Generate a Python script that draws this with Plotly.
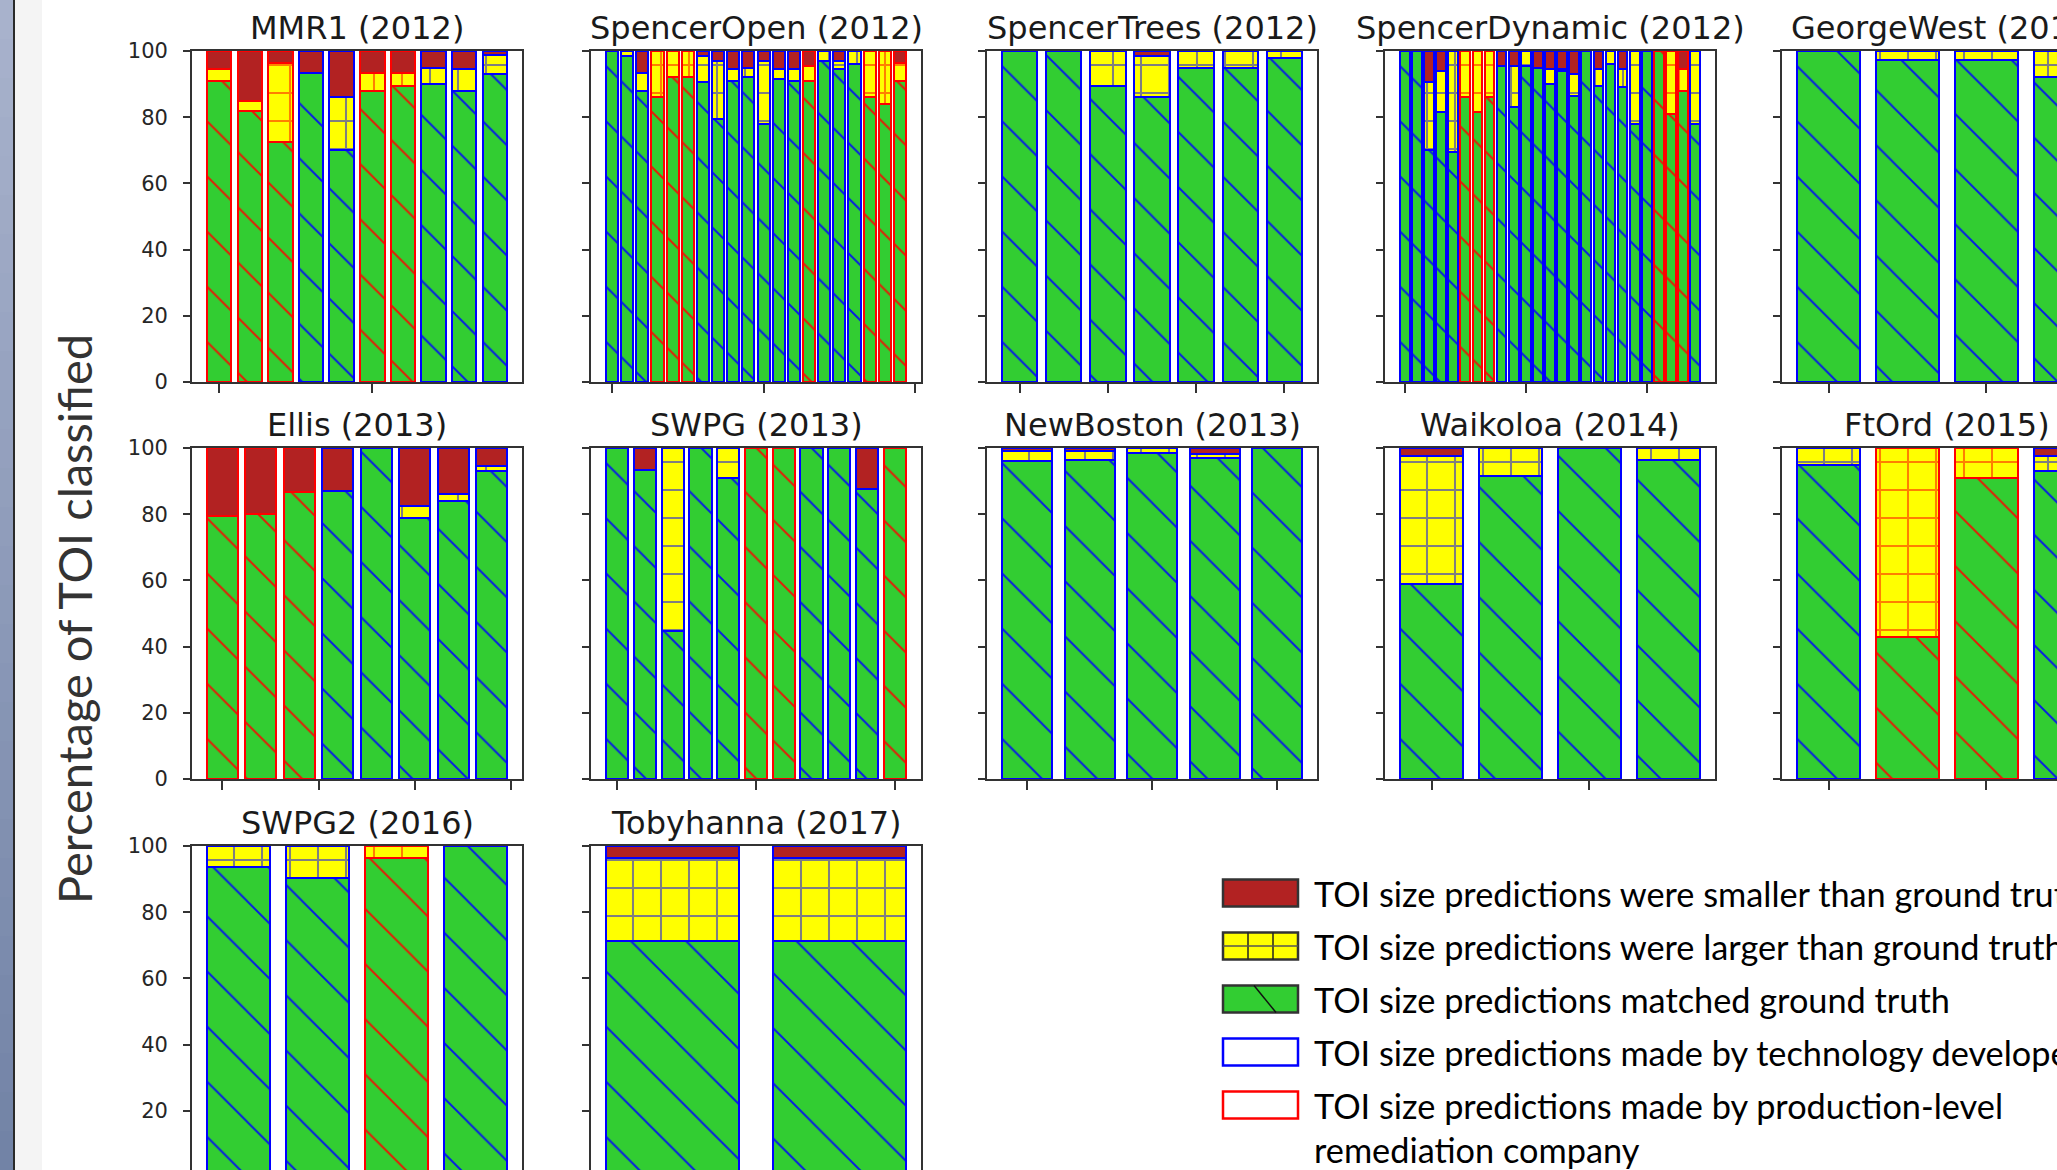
import plotly.graph_objects as go

W, H = 2057, 1170

# ---------------- data: percentage of TOI per submission ----------------
# maker: T = technology developer (blue edge), P = production-level company (red edge)
mmr1_matched = [91, 82, 72.5, 93.3, 70, 88, 89.5, 90, 88, 93]
mmr1_larger = [3.5, 3, 24, 0, 16, 5.5, 4, 5, 6.5, 5.7]
mmr1_smaller = [5.5, 15, 3.5, 6.7, 14, 6.5, 6.5, 5, 5.5, 1.3]
mmr1_maker = list("PPPTTPPTTT")
mmr1_xticks = [0, 5]

sopen_matched = [100, 98.5, 88, 86, 92, 92, 90.5, 79.5, 91, 92, 78, 91.5, 91, 91, 97, 94.5, 96, 86, 84, 91]
sopen_larger = [0, 1.5, 5.5, 14, 8, 8, 8, 17.5, 3.5, 3, 19, 3, 3.5, 4.5, 3, 2.5, 4, 14, 16, 5.5]
sopen_smaller = [0, 0, 6.5, 0, 0, 0, 1.5, 3, 5.5, 5, 3, 5.5, 5.5, 4.5, 0, 3, 0, 0, 0, 3.5]
sopen_maker = list("TTTPPPTTTTTTTPTTTPPP")
sopen_xticks = [0, 10, 20]

strees_matched = [100, 100, 89.5, 86, 95, 95, 97.8]
strees_larger = [0, 0, 10.5, 12.5, 5, 5, 2.2]
strees_smaller = [0, 0, 0, 1.5, 0, 0, 0]
strees_maker = list("TTTTTTT")
strees_xticks = [0, 2, 4, 6]

sdyn_matched = [100, 100, 70, 81.5, 69.5, 86, 81.5, 86, 95.5, 83, 95.5, 95, 90, 94, 86.5,
                100, 89.5, 96, 89, 78, 100, 100, 81, 88, 78]
sdyn_larger = [0, 0, 20.5, 12.5, 30.5, 14, 18.5, 14, 0, 12.5, 4.5, 0, 4.5, 0.5, 6.5,
               0, 5, 4, 5.5, 22, 0, 0, 19, 6.5, 22]
sdyn_smaller = [0, 0, 9.5, 6, 0, 0, 0, 0, 4.5, 4.5, 0, 5, 5.5, 5.5, 7,
                0, 5.5, 0, 5.5, 0, 0, 0, 0, 5.5, 0]
sdyn_maker = list("TTTTTPPPTTTTTTTTTTTTTPPPT")
sdyn_xticks = [0, 10, 20]

gwest_matched = [100, 97.2, 97.2, 92]
gwest_larger = [0, 2.8, 2.8, 8]
gwest_smaller = [0, 0, 0, 0]
gwest_maker = list("TTTT")
gwest_xticks = [0, 2]

ellis_matched = [79.5, 80.2, 86.6, 87, 100, 79, 84, 93]
ellis_larger = [0, 0, 0, 0, 0, 3.5, 2, 1.5]
ellis_smaller = [20.5, 19.8, 13.4, 13, 0, 17.5, 14, 5.5]
ellis_maker = list("PPPTTTTT")
ellis_xticks = [0, 2.5, 5, 7.5]

swpg_matched = [100, 93.3, 44.6, 100, 91, 100, 100, 100, 100, 87.6, 100]
swpg_larger = [0, 0, 55.4, 0, 9, 0, 0, 0, 0, 0, 0]
swpg_smaller = [0, 6.7, 0, 0, 0, 0, 0, 0, 0, 12.4, 0]
swpg_maker = list("TTTTTPPTTTP")
swpg_xticks = [0, 5, 10]

nbos_matched = [96, 96.5, 98.5, 97, 100]
nbos_larger = [3, 2.5, 1.5, 1.2, 0]
nbos_smaller = [1, 1, 0, 1.8, 0]
nbos_maker = list("TTTTT")
nbos_xticks = [0, 2, 4]

waik_matched = [59, 91.6, 100, 96.5]
waik_larger = [38.7, 8.4, 0, 3.5]
waik_smaller = [2.3, 0, 0, 0]
waik_maker = list("TTTT")
waik_xticks = [0, 2]

ftord_matched = [95, 43, 91, 93]
ftord_larger = [5, 57, 9, 4.7]
ftord_smaller = [0, 0, 0, 2.3]
ftord_maker = list("TPPT")
ftord_xticks = [0, 2]

swpg2_matched = [93.8, 90.3, 96.3, 100]
swpg2_larger = [6.2, 9.7, 3.7, 0]
swpg2_smaller = [0, 0, 0, 0]
swpg2_maker = list("TTPT")
swpg2_xticks = [0, 2]

toby_matched = [71.4, 71.4]
toby_larger = [25, 25]
toby_smaller = [3.6, 3.6]
toby_maker = list("TT")
toby_xticks = [0, 0.5, 1]

y_ticks = [0, 20, 40, 60, 80, 100]

legend_labels = [
    "TOI size predictions were smaller than ground truth",
    "TOI size predictions were larger than ground truth",
    "TOI size predictions matched ground truth",
    "TOI size predictions made by technology developer",
    "TOI size predictions made by production-level",
]
legend_label_cont = "remediation company"
y_title = "Percentage of TOI classified"

panels = [
    ("MMR1 (2012)", mmr1_matched, mmr1_larger, mmr1_smaller, mmr1_maker, mmr1_xticks, 0, 0),
    ("SpencerOpen (2012)", sopen_matched, sopen_larger, sopen_smaller, sopen_maker, sopen_xticks, 0, 1),
    ("SpencerTrees (2012)", strees_matched, strees_larger, strees_smaller, strees_maker, strees_xticks, 0, 2),
    ("SpencerDynamic (2012)", sdyn_matched, sdyn_larger, sdyn_smaller, sdyn_maker, sdyn_xticks, 0, 3),
    ("GeorgeWest (2013)", gwest_matched, gwest_larger, gwest_smaller, gwest_maker, gwest_xticks, 0, 4),
    ("Ellis (2013)", ellis_matched, ellis_larger, ellis_smaller, ellis_maker, ellis_xticks, 1, 0),
    ("SWPG (2013)", swpg_matched, swpg_larger, swpg_smaller, swpg_maker, swpg_xticks, 1, 1),
    ("NewBoston (2013)", nbos_matched, nbos_larger, nbos_smaller, nbos_maker, nbos_xticks, 1, 2),
    ("Waikoloa (2014)", waik_matched, waik_larger, waik_smaller, waik_maker, waik_xticks, 1, 3),
    ("FtOrd (2015)", ftord_matched, ftord_larger, ftord_smaller, ftord_maker, ftord_xticks, 1, 4),
    ("SWPG2 (2016)", swpg2_matched, swpg2_larger, swpg2_smaller, swpg2_maker, swpg2_xticks, 2, 0),
    ("Tobyhanna (2017)", toby_matched, toby_larger, toby_smaller, toby_maker, toby_xticks, 2, 1),
]

# ---------------- styling / geometry ----------------
GREEN = "#32cd32"
YELLOW = "#ffff00"
DARKRED = "#b22222"
BLUE = "#0000ff"
RED = "#ff0000"
AXC = "#333333"
COL_LEFT = [192, 591, 987, 1385, 1782]
ROW_TOP = [51, 448, 846]
PW, PH = 330, 331


def fx(px):
    return px / W


def fy(py):
    return 1 - py / H


def nz(vals):
    return [v if v > 0 else None for v in vals]


fig = go.Figure()
layout_axes = {}
annotations = []

for k, (title, g, yl, sm, mk, xt, row, col) in enumerate(panels):
    sfx = "" if k == 0 else str(k + 1)
    left, top = COL_LEFT[col], ROW_TOP[row]
    right, bottom = left + PW, top + PH
    n = len(g)
    lo = -0.4 - 0.05 * (n - 0.2)
    hi = n - 1 + 0.4 + 0.05 * (n - 0.2)
    clip_r = right > W
    clip_b = bottom > H
    if clip_r:
        hi = lo + (hi - lo) * (W - left) / PW
        right = W
    ylo = 0
    if clip_b:
        ylo = 100 * (bottom - H) / PH
        bottom = H
    xs = list(range(n))
    edge = [BLUE if m == "T" else RED for m in mk]

    fig.add_trace(go.Bar(
        x=xs, y=nz(g), width=0.8, xaxis="x" + sfx, yaxis="y" + sfx, showlegend=False,
        marker=dict(color=GREEN, line=dict(color=edge, width=2),
                    pattern=dict(shape="\\", size=39, solidity=0.05,
                                 fgcolor=edge, fgopacity=0.85, bgcolor=GREEN)),
    ))
    fig.add_trace(go.Bar(
        x=xs, y=nz(yl), width=0.8, xaxis="x" + sfx, yaxis="y" + sfx, showlegend=False,
        marker=dict(color=YELLOW, line=dict(color=edge, width=2),
                    pattern=dict(shape="+", size=28, solidity=0.14,
                                 fgcolor=edge, fgopacity=0.5, bgcolor=YELLOW)),
    ))
    fig.add_trace(go.Bar(
        x=xs, y=nz(sm), width=0.8, xaxis="x" + sfx, yaxis="y" + sfx, showlegend=False,
        marker=dict(color=DARKRED, line=dict(color=edge, width=2)),
    ))

    xa = dict(domain=[fx(left), fx(right)], range=[lo, hi], anchor="y" + sfx,
              automargin=False,
              showgrid=False, zeroline=False, showline=True, linecolor=AXC, linewidth=1.8,
              tickmode="array", tickvals=xt, showticklabels=False,
              ticks="outside", ticklen=9, tickwidth=1.5, tickcolor=AXC, mirror=True)
    if clip_b:
        xa.update(side="top", mirror=False, ticks="")
    ya = dict(domain=[fy(bottom), fy(top)], range=[ylo, 100], anchor="x" + sfx,
              automargin=False,
              showgrid=False, zeroline=False, showline=True, linecolor=AXC, linewidth=1.8,
              tickmode="array", tickvals=y_ticks, showticklabels=(col == 0),
              ticks="outside", ticklen=7, tickwidth=1.5, tickcolor=AXC,
              ticklabelstandoff=11,
              tickfont=dict(family="DejaVu Sans", size=21, color="#262626"),
              mirror=not clip_r)
    layout_axes["xaxis" + sfx] = xa
    layout_axes["yaxis" + sfx] = ya

    annotations.append(dict(
        text=title, x=fx(left + PW / 2), y=fy(top - 23), xref="paper", yref="paper",
        xanchor="center", yanchor="middle", showarrow=False,
        font=dict(family="DejaVu Sans", size=32, color="#1a1a1a"),
    ))

# y-axis title
annotations.append(dict(
    text=y_title, x=fx(74), y=fy(619), xref="paper", yref="paper", textangle=-90,
    xanchor="center", yanchor="middle", showarrow=False,
    font=dict(family="Lato", size=47, color="#333333"),
))

# ---------------- legend (drawn) ----------------
shapes = []
LX0, LX1 = 1223, 1298
leg_centers = [893, 946, 999, 1052, 1105]
hh = 13.5
fills = [DARKRED, YELLOW, GREEN, "white", "white"]
outlines = ["#333333", "#333333", "#333333", BLUE, RED]
for c, f, o in zip(leg_centers, fills, outlines):
    shapes.append(dict(type="rect", xref="paper", yref="paper",
                       x0=fx(LX0), x1=fx(LX1), y0=fy(c + hh), y1=fy(c - hh),
                       fillcolor=f, line=dict(color=o, width=2.5)))
c = leg_centers[1]
for xx in (LX0 + 25, LX0 + 50):
    shapes.append(dict(type="line", xref="paper", yref="paper",
                       x0=fx(xx), x1=fx(xx), y0=fy(c + hh), y1=fy(c - hh),
                       line=dict(color="#222222", width=1.5)))
shapes.append(dict(type="line", xref="paper", yref="paper",
                   x0=fx(LX0), x1=fx(LX1), y0=fy(c), y1=fy(c),
                   line=dict(color="#555555", width=1.5)))
c = leg_centers[2]
shapes.append(dict(type="line", xref="paper", yref="paper",
                   x0=fx(1254), x1=fx(1276), y0=fy(c - hh), y1=fy(c + hh),
                   line=dict(color="#111111", width=1.5)))

LEG_FONT = dict(family="Lato", size=34.3, color="#000000")
for c, lab in zip(leg_centers, legend_labels):
    annotations.append(dict(
        text=lab, x=fx(1312), y=fy(c), xref="paper", yref="paper",
        xanchor="left", yanchor="middle", showarrow=False, font=LEG_FONT,
    ))
annotations.append(dict(
    text=legend_label_cont, x=fx(1312), y=fy(1149), xref="paper", yref="paper",
    xanchor="left", yanchor="middle", showarrow=False, font=LEG_FONT,
))

# ---------------- left slide border ----------------
nstep = 30
c_top = (168, 178, 204)
c_bot = (114, 131, 166)
for i in range(nstep):
    t = i / (nstep - 1)
    col = tuple(int(round(a + (b - a) * t)) for a, b in zip(c_top, c_bot))
    shapes.append(dict(type="rect", xref="paper", yref="paper", layer="below",
                       x0=0, x1=fx(13), y0=fy(H * (i + 1) / nstep), y1=fy(H * i / nstep),
                       fillcolor="rgb(%d,%d,%d)" % col, line=dict(width=0)))
shapes.append(dict(type="rect", xref="paper", yref="paper", layer="below",
                   x0=fx(15), x1=fx(42), y0=0, y1=1,
                   fillcolor="#f4f4f4", line=dict(width=0)))
shapes.append(dict(type="line", xref="paper", yref="paper", layer="below",
                   x0=fx(14), x1=fx(14), y0=0, y1=1,
                   line=dict(color="#2a2a2a", width=2)))

fig.update_layout(
    autosize=True,
    margin=dict(l=0, r=0, t=0, b=0, pad=0, autoexpand=False),
    paper_bgcolor="white", plot_bgcolor="white",
    barmode="stack", bargap=0,
    annotations=annotations, shapes=shapes,
    **layout_axes,
)

fig.write_html(
    "out.html",
    config={"displayModeBar": False, "responsive": False},
    default_width="%dpx; position:absolute; left:0; top:0; overflow:hidden" % W,
    default_height="%dpx" % H,
    post_script="document.body.style.margin='0';document.body.style.overflow='hidden';",
)
